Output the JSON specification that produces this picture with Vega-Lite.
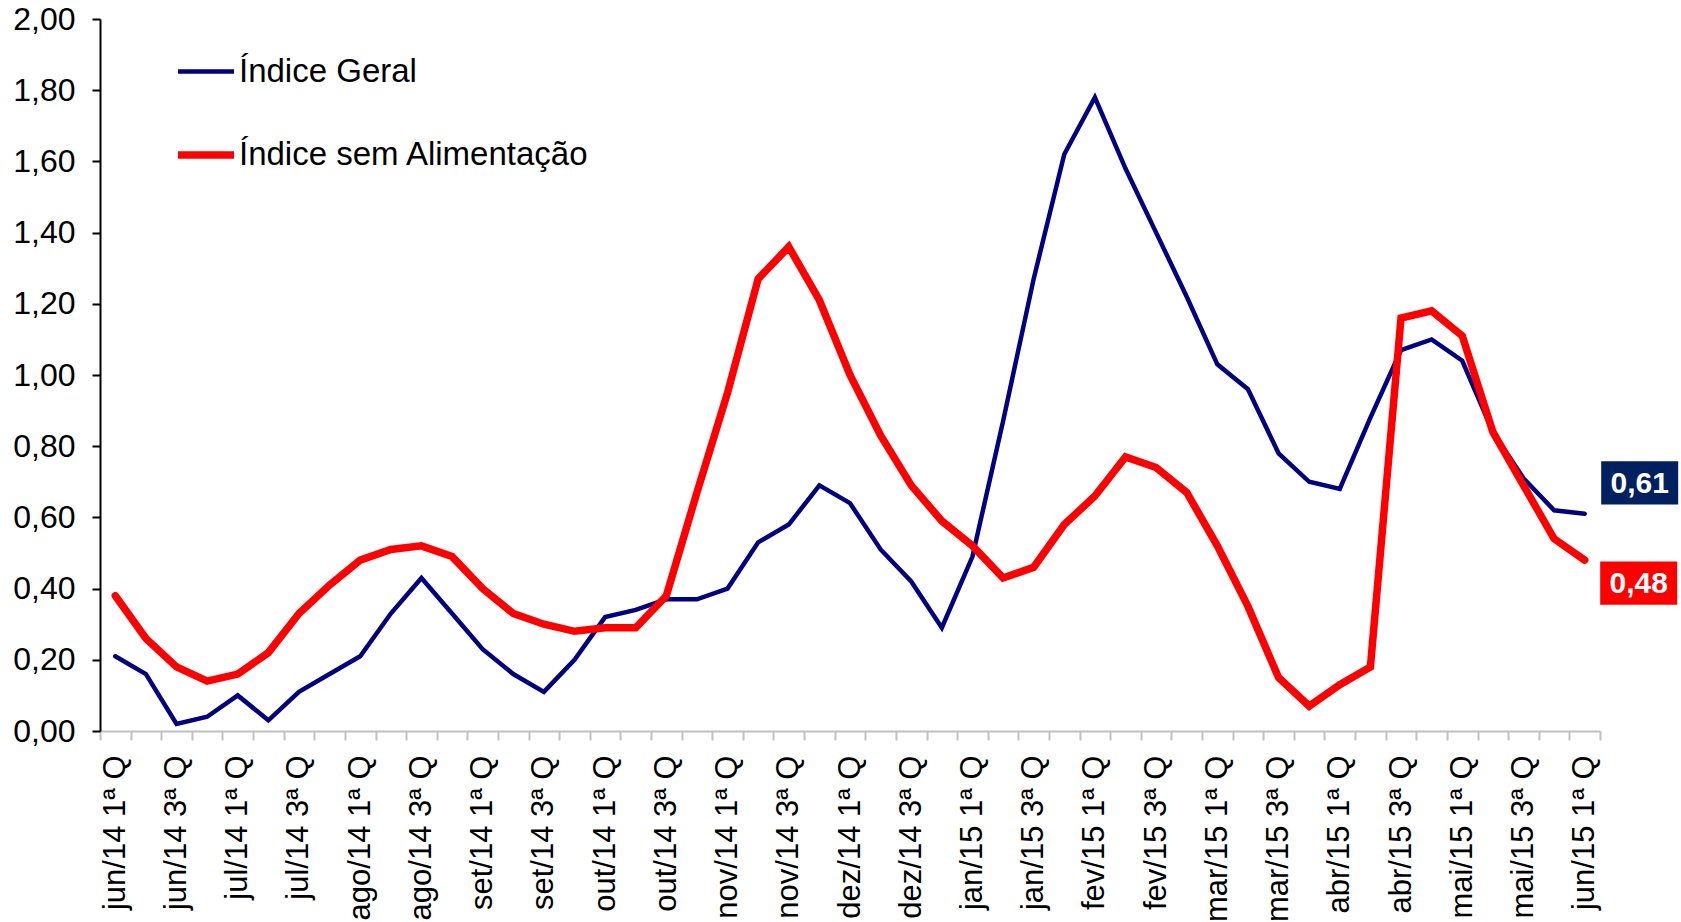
{
  "$schema": "https://vega.github.io/schema/vega-lite/v6.json",
  "width": 1500,
  "height": 712,
  "autosize": {"type": "none"},
  "padding": {"left": 100, "top": 19, "right": 81, "bottom": 191},
  "background": "white",
  "config": {
    "locale": {"number": {"decimal": ",", "thousands": ".", "grouping": [3], "currency": ["R$", ""]}},
    "view": {"stroke": null},
    "font": "Liberation Sans"
  },
  "data": {
    "values": [
      {"q": "jun/14 1ª Q", "Índice Geral": 0.21, "Índice sem Alimentação": 0.38},
      {"q": "jun/14 2ª Q", "Índice Geral": 0.16, "Índice sem Alimentação": 0.26},
      {"q": "jun/14 3ª Q", "Índice Geral": 0.02, "Índice sem Alimentação": 0.18},
      {"q": "jun/14 4ª Q", "Índice Geral": 0.04, "Índice sem Alimentação": 0.14},
      {"q": "jul/14 1ª Q", "Índice Geral": 0.10, "Índice sem Alimentação": 0.16},
      {"q": "jul/14 2ª Q", "Índice Geral": 0.03, "Índice sem Alimentação": 0.22},
      {"q": "jul/14 3ª Q", "Índice Geral": 0.11, "Índice sem Alimentação": 0.33},
      {"q": "jul/14 4ª Q", "Índice Geral": 0.16, "Índice sem Alimentação": 0.41},
      {"q": "ago/14 1ª Q", "Índice Geral": 0.21, "Índice sem Alimentação": 0.48},
      {"q": "ago/14 2ª Q", "Índice Geral": 0.33, "Índice sem Alimentação": 0.51},
      {"q": "ago/14 3ª Q", "Índice Geral": 0.43, "Índice sem Alimentação": 0.52},
      {"q": "ago/14 4ª Q", "Índice Geral": 0.33, "Índice sem Alimentação": 0.49},
      {"q": "set/14 1ª Q", "Índice Geral": 0.23, "Índice sem Alimentação": 0.40},
      {"q": "set/14 2ª Q", "Índice Geral": 0.16, "Índice sem Alimentação": 0.33},
      {"q": "set/14 3ª Q", "Índice Geral": 0.11, "Índice sem Alimentação": 0.30},
      {"q": "set/14 4ª Q", "Índice Geral": 0.20, "Índice sem Alimentação": 0.28},
      {"q": "out/14 1ª Q", "Índice Geral": 0.32, "Índice sem Alimentação": 0.29},
      {"q": "out/14 2ª Q", "Índice Geral": 0.34, "Índice sem Alimentação": 0.29},
      {"q": "out/14 3ª Q", "Índice Geral": 0.37, "Índice sem Alimentação": 0.38},
      {"q": "out/14 4ª Q", "Índice Geral": 0.37, "Índice sem Alimentação": 0.67},
      {"q": "nov/14 1ª Q", "Índice Geral": 0.40, "Índice sem Alimentação": 0.95},
      {"q": "nov/14 2ª Q", "Índice Geral": 0.53, "Índice sem Alimentação": 1.27},
      {"q": "nov/14 3ª Q", "Índice Geral": 0.58, "Índice sem Alimentação": 1.36},
      {"q": "nov/14 4ª Q", "Índice Geral": 0.69, "Índice sem Alimentação": 1.21},
      {"q": "dez/14 1ª Q", "Índice Geral": 0.64, "Índice sem Alimentação": 1.00},
      {"q": "dez/14 2ª Q", "Índice Geral": 0.51, "Índice sem Alimentação": 0.83},
      {"q": "dez/14 3ª Q", "Índice Geral": 0.42, "Índice sem Alimentação": 0.69},
      {"q": "dez/14 4ª Q", "Índice Geral": 0.29, "Índice sem Alimentação": 0.59},
      {"q": "jan/15 1ª Q", "Índice Geral": 0.49, "Índice sem Alimentação": 0.52},
      {"q": "jan/15 2ª Q", "Índice Geral": 0.87, "Índice sem Alimentação": 0.43},
      {"q": "jan/15 3ª Q", "Índice Geral": 1.27, "Índice sem Alimentação": 0.46},
      {"q": "jan/15 4ª Q", "Índice Geral": 1.62, "Índice sem Alimentação": 0.58},
      {"q": "fev/15 1ª Q", "Índice Geral": 1.78, "Índice sem Alimentação": 0.66},
      {"q": "fev/15 2ª Q", "Índice Geral": 1.58, "Índice sem Alimentação": 0.77},
      {"q": "fev/15 3ª Q", "Índice Geral": 1.40, "Índice sem Alimentação": 0.74},
      {"q": "fev/15 4ª Q", "Índice Geral": 1.22, "Índice sem Alimentação": 0.67},
      {"q": "mar/15 1ª Q", "Índice Geral": 1.03, "Índice sem Alimentação": 0.52},
      {"q": "mar/15 2ª Q", "Índice Geral": 0.96, "Índice sem Alimentação": 0.35},
      {"q": "mar/15 3ª Q", "Índice Geral": 0.78, "Índice sem Alimentação": 0.15},
      {"q": "mar/15 4ª Q", "Índice Geral": 0.70, "Índice sem Alimentação": 0.07},
      {"q": "abr/15 1ª Q", "Índice Geral": 0.68, "Índice sem Alimentação": 0.13},
      {"q": "abr/15 2ª Q", "Índice Geral": 0.88, "Índice sem Alimentação": 0.18},
      {"q": "abr/15 3ª Q", "Índice Geral": 1.07, "Índice sem Alimentação": 1.16},
      {"q": "abr/15 4ª Q", "Índice Geral": 1.10, "Índice sem Alimentação": 1.18},
      {"q": "mai/15 1ª Q", "Índice Geral": 1.04, "Índice sem Alimentação": 1.11},
      {"q": "mai/15 2ª Q", "Índice Geral": 0.84, "Índice sem Alimentação": 0.84},
      {"q": "mai/15 3ª Q", "Índice Geral": 0.71, "Índice sem Alimentação": 0.69},
      {"q": "mai/15 4ª Q", "Índice Geral": 0.62, "Índice sem Alimentação": 0.54},
      {"q": "jun/15 1ª Q", "Índice Geral": 0.61, "Índice sem Alimentação": 0.48}
    ]
  },
  "transform": [{"fold": ["Índice Geral", "Índice sem Alimentação"], "as": ["serie", "v"]}],
  "encoding": {
    "x": {
      "field": "q",
      "type": "ordinal",
      "sort": null,
      "bandPosition": 0.5,
      "scale": {"type": "band", "paddingInner": 0, "paddingOuter": 0},
      "axis": {
        "title": null,
        "labelAngle": -90,
        "labelFontSize": 31,
        "labelColor": "black",
        "labelFont": "Liberation Sans",
        "tickBand": "extent",
        "tickColor": "#c0c0c0",
        "tickWidth": 2,
        "tickSize": 9,
        "domainColor": "#c0c0c0",
        "domainWidth": 2,
        "labelPadding": 15,
        "labelOverlap": false,
        "labelLimit": 0,
        "labelBound": false,
        "grid": false,
        "labelExpr": "indexof(datum.label, '2ª') >= 0 || indexof(datum.label, '4ª') >= 0 ? '' : datum.label"
      }
    },
    "y": {
      "field": "v",
      "type": "quantitative",
      "scale": {"domain": [0, 2], "nice": false, "zero": true},
      "axis": {
        "title": null,
        "values": [0, 0.2, 0.4, 0.6, 0.8, 1, 1.2, 1.4, 1.6, 1.8, 2],
        "format": ".2f",
        "labelFontSize": 32,
        "labelColor": "black",
        "labelFont": "Liberation Sans",
        "tickColor": "black",
        "tickWidth": 2,
        "tickSize": 8,
        "domainColor": "black",
        "domainWidth": 2,
        "labelPadding": 17,
        "grid": false
      }
    }
  },
  "layer": [
    {
      "mark": {"type": "line", "strokeCap": "round"},
      "encoding": {
        "color": {
          "field": "serie",
          "type": "nominal",
          "scale": {"domain": ["Índice Geral", "Índice sem Alimentação"], "range": ["#000080", "#ff0000"]},
          "legend": {
            "orient": "none",
            "legendX": 74,
            "legendY": 22,
            "title": null,
            "symbolType": "stroke",
            "symbolSize": 3136,
            "labelFontSize": 33,
            "labelFont": "Liberation Sans",
            "labelColor": "black",
            "labelOffset": 1,
            "labelLimit": 0,
            "rowPadding": 34,
            "padding": 0
          }
        },
        "strokeWidth": {
          "field": "serie",
          "type": "nominal",
          "scale": {"type": "ordinal", "domain": ["Índice Geral", "Índice sem Alimentação"], "range": [4.5, 7.5]},
          "legend": {
            "orient": "none",
            "legendX": 74,
            "legendY": 22,
            "title": null,
            "symbolType": "stroke",
            "symbolSize": 3136,
            "labelFontSize": 33,
            "labelFont": "Liberation Sans",
            "labelColor": "black",
            "labelOffset": 1,
            "labelLimit": 0,
            "rowPadding": 34,
            "padding": 0
          }
        }
      }
    },
    {
      "transform": [{"filter": "datum.q == 'jun/15 1ª Q' && datum.serie == 'Índice Geral'"}],
      "mark": {"type": "point", "shape": "M-1,-0.56L1,-0.56L1,0.56L-1,0.56Z", "size": 5929, "filled": true, "opacity": 1, "color": "#002060", "strokeWidth": 0, "xOffset": 55, "yOffset": -31}
    },
    {
      "transform": [{"filter": "datum.q == 'jun/15 1ª Q' && datum.serie == 'Índice Geral'"}],
      "mark": {"type": "text", "color": "white", "fontWeight": "bold", "fontSize": 30, "font": "Liberation Sans", "align": "center", "baseline": "middle", "dx": 55, "dy": -30},
      "encoding": {"text": {"field": "v", "type": "quantitative", "format": ".2f"}}
    },
    {
      "transform": [{"filter": "datum.q == 'jun/15 1ª Q' && datum.serie == 'Índice sem Alimentação'"}],
      "mark": {"type": "point", "shape": "M-1,-0.56L1,-0.56L1,0.56L-1,0.56Z", "size": 5929, "filled": true, "opacity": 1, "color": "#ff0000", "strokeWidth": 0, "xOffset": 54, "yOffset": 23}
    },
    {
      "transform": [{"filter": "datum.q == 'jun/15 1ª Q' && datum.serie == 'Índice sem Alimentação'"}],
      "mark": {"type": "text", "color": "white", "fontWeight": "bold", "fontSize": 30, "font": "Liberation Sans", "align": "center", "baseline": "middle", "dx": 54, "dy": 24},
      "encoding": {"text": {"field": "v", "type": "quantitative", "format": ".2f"}}
    }
  ]
}
